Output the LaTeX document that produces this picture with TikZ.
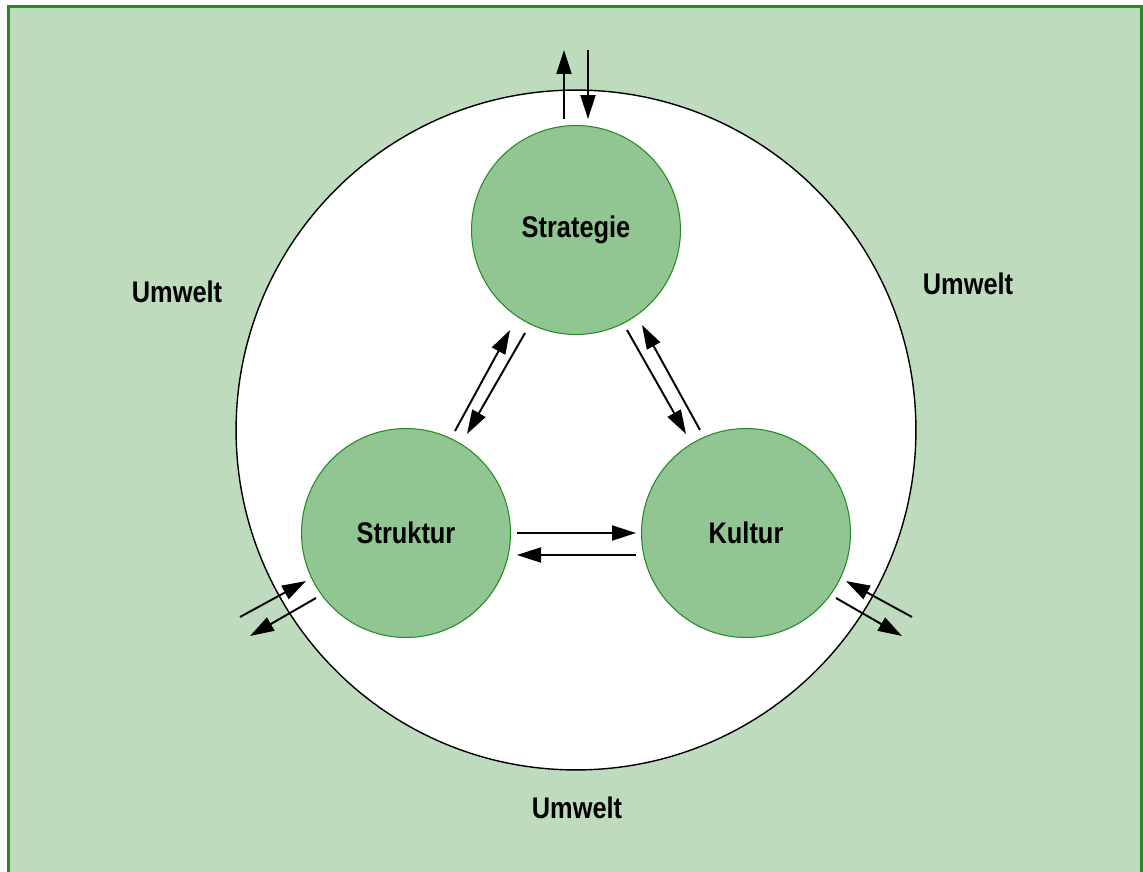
\documentclass[tikz,border=0pt]{standalone}
\usepackage{fontspec}
\setmainfont{Liberation Sans}[FakeStretch=0.85]
\definecolor{envgreen}{RGB}{190,220,189}
\definecolor{unitgreen}{RGB}{145,197,145}
\definecolor{framegreen}{RGB}{38,138,38}
\usetikzlibrary{arrows.meta}

\begin{document}
\begin{tikzpicture}[x=0.02cm,y=-0.02cm]
        \tikzset{unit/.style={circle, draw=framegreen, fill=unitgreen, line width=0.6pt,
                        minimum size=4.18cm, inner sep=0pt, font=\bfseries\fontsize{17}{20}\selectfont},
                env/.style={font=\bfseries\fontsize{17}{20}\selectfont},
                >={Triangle[length=0.48cm,width=0.3cm]},
                flow/.style={->, line width=1.1pt}}

        \useasboundingbox (0,0) rectangle (1143,872);
        \draw[framegreen, fill=envgreen, line width=1.7pt] (8.5,6.5) rectangle (1141.5,900);

        % system boundary and the three units
        \node[circle, draw, fill=white, line width=0.8pt, minimum size=13.6cm] (system) at (576,430) {};
        \node[unit] (strat) at (576,230) {Strategie};
        \node[unit] (struk) at (406,533) {Struktur};
        \node[unit] (kult) at (746,533) {Kultur};

        \node[env] (env1) at (177,292) {Umwelt};
        \node[env] (env2) at (968,284) {Umwelt};
        \node[env] (env3) at (577,808) {Umwelt};

        % arrow ends
        \coordinate (t1) at (564,119); \coordinate (t2) at (564,50);
        \coordinate (t3) at (588,50);  \coordinate (t4) at (588,119);
        \coordinate (a1) at (455,431); \coordinate (a2) at (510,330);
        \coordinate (a3) at (525,333); \coordinate (a4) at (467,434);
        \coordinate (b1) at (627,330); \coordinate (b2) at (686,434);
        \coordinate (b3) at (700,430); \coordinate (b4) at (642,325);
        \coordinate (c1) at (517,533); \coordinate (c2) at (636,533);
        \coordinate (c3) at (636,555); \coordinate (c4) at (517,555);
        \coordinate (l1) at (240,617); \coordinate (l2) at (306,581);
        \coordinate (l3) at (316,598); \coordinate (l4) at (250,636);
        \coordinate (r1) at (912,617); \coordinate (r2) at (846,581);
        \coordinate (r3) at (836,598); \coordinate (r4) at (902,636);

        \draw[flow] (t1) -- (t2);
        \draw[flow] (t3) -- (t4);
        \draw[flow] (a1) -- (a2);
        \draw[flow] (a3) -- (a4);
        \draw[flow] (b1) -- (b2);
        \draw[flow] (b3) -- (b4);
        \draw[flow] (c1) -- (c2);
        \draw[flow] (c3) -- (c4);
        \draw[flow] (l1) -- (l2);
        \draw[flow] (l3) -- (l4);
        \draw[flow] (r1) -- (r2);
        \draw[flow] (r3) -- (r4);

    \end{tikzpicture}
\end{document}
